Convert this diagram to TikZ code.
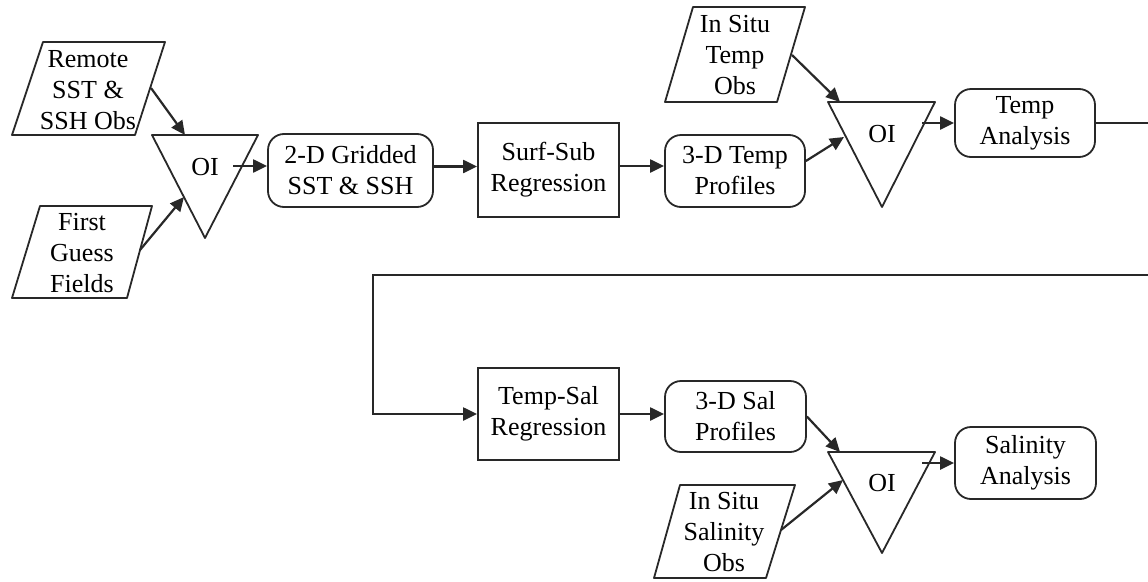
\documentclass[tikz,border=0pt]{standalone}
\usepackage{fontspec}
\setmainfont{Liberation Serif}
\usetikzlibrary{arrows.meta}
\definecolor{ink}{RGB}{40,40,40}
\begin{document}
\begin{tikzpicture}[x=1pt,y=-1pt,
  every node/.style={font=\fontsize{26}{31}\selectfont, align=center, text=black, inner sep=0pt},
  rbox/.style={draw=ink, line width=1.8pt, rounded corners=16pt},
  sbox/.style={draw=ink, line width=1.8pt},
  outline/.style={draw=ink, line width=1.8pt, line join=round},
  conn/.style={draw=ink, line width=2.2pt, -{Triangle[length=14pt,width=13pt]}}]
\useasboundingbox (0,0) rectangle (1148,581);
\clip (0,0) rectangle (1148,581);

% ---- inputs (parallelograms)
\draw[outline] (43,42) -- (165,42) -- (135,135) -- (12,135) -- cycle;
\node (remote) at (88,90) {Remote\\SST \&\\SSH Obs};
\coordinate (remote-out) at (151,88);

\draw[outline] (40,206) -- (152,206) -- (127,298) -- (12,298) -- cycle;
\node (guess) at (82,253) {First\\Guess\\Fields};
\coordinate (guess-out) at (140,250);

\draw[outline] (693,7) -- (805,7) -- (777,102) -- (665,102) -- cycle;
\node (istemp) at (735,55) {In Situ\\Temp\\Obs};
\coordinate (istemp-out) at (792,55);

\draw[outline] (680,485) -- (795,485) -- (766,578) -- (654,578) -- cycle;
\node (issal) at (724,532) {In Situ\\Salinity\\Obs};
\coordinate (issal-out) at (781,530);

% ---- OI triangles
\draw[outline] (152,135) -- (258,135) -- (205,238) -- cycle;
\node (oi1) at (205,167) {OI};
\coordinate (oi1-top) at (185,135);
\coordinate (oi1-left) at (184,197);
\coordinate (oi1-out) at (233,166);

\draw[outline] (828,102) -- (935,102) -- (882,207) -- cycle;
\node (oi2) at (882,134) {OI};
\coordinate (oi2-top) at (840,102);
\coordinate (oi2-left) at (844,137);
\coordinate (oi2-out) at (922,123);

\draw[outline] (828,452) -- (935,452) -- (882,553) -- cycle;
\node (oi3) at (882,483) {OI};
\coordinate (oi3-top) at (840,452);
\coordinate (oi3-left) at (843,480);
\coordinate (oi3-out) at (922,463);

% ---- boxes
\node[rbox, minimum width=165pt, minimum height=73pt] (grid) at (350.5,170.5) {2-D Gridded\\SST \& SSH};
\node[sbox, minimum width=141pt, minimum height=94pt] (surf) at (548.5,170) {Surf-Sub\\Regression};
\node[rbox, minimum width=140pt, minimum height=72pt] (t3d) at (735,171) {3-D Temp\\Profiles};
\node[rbox, minimum width=140pt, minimum height=68pt] (tanal) at (1025,123) {Temp\\Analysis};
\node[sbox, minimum width=141pt, minimum height=92pt] (tsr) at (548.5,414) {Temp-Sal\\Regression};
\node[rbox, minimum width=141pt, minimum height=71pt] (s3d) at (735.5,416.5) {3-D Sal\\Profiles};
\node[rbox, minimum width=141pt, minimum height=72pt] (sanal) at (1025.5,463) {Salinity\\Analysis};

% ---- connectors
\draw[conn] (remote-out) -- (oi1-top);
\draw[conn] (guess-out) -- (oi1-left);
\draw[conn] (oi1-out) -- (grid.west |- oi1-out);
\draw[conn] ([yshift=4pt]grid.east) -- ([yshift=4pt]grid.east -| surf.west);
\draw[conn] ([yshift=4pt]surf.east) -- ([yshift=4pt]surf.east -| t3d.west);
\draw[conn] (istemp-out) -- (oi2-top);
\draw[conn] ([yshift=10pt]t3d.east) -- (oi2-left);
\draw[conn] (oi2-out) -- (tanal.west |- oi2-out);

\coordinate (r1) at (1165,123);
\coordinate (r2) at (1165,275);
\coordinate (l1) at (373,275);
\coordinate (l2) at (373,414);
\draw[conn] (tanal.east) -- (r1) -- (r2) -- (l1) -- (l2) -- (tsr.west);

\draw[conn] (tsr.east) -- (tsr.east -| s3d.west);
\draw[conn] (s3d.east) -- (oi3-top);
\draw[conn] (issal-out) -- (oi3-left);
\draw[conn] (oi3-out) -- (sanal.west |- oi3-out);
\end{tikzpicture}
\end{document}
